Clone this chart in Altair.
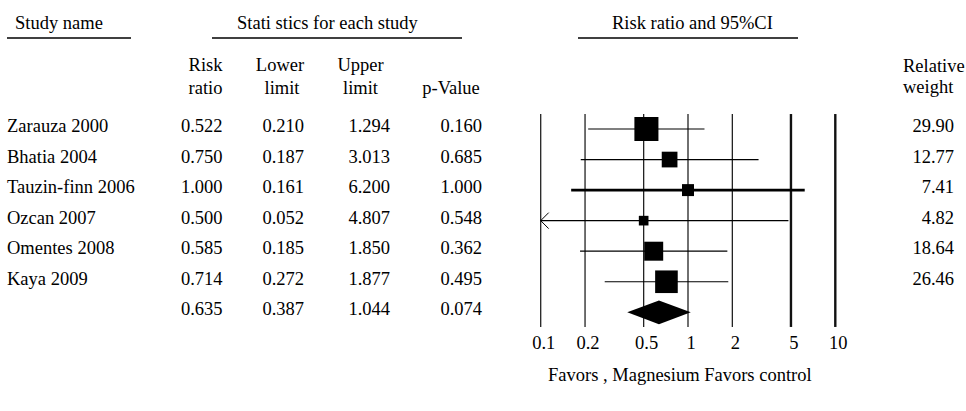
import altair as alt
import pandas as pd

# ---- data ----
studies = ["Zarauza 2000", "Bhatia 2004", "Tauzin-finn 2006", "Ozcan 2007", "Omentes 2008", "Kaya 2009"]
risk_ratio = [0.522, 0.750, 1.000, 0.500, 0.585, 0.714]
lower_limit = [0.210, 0.187, 0.161, 0.052, 0.185, 0.272]
upper_limit = [1.294, 3.013, 6.200, 4.807, 1.850, 1.877]
p_values = [0.160, 0.685, 1.000, 0.548, 0.362, 0.495]
rel_weight = [29.90, 12.77, 7.41, 4.82, 18.64, 26.46]

summary_rr = 0.635
summary_lower = 0.387
summary_upper = 1.044
summary_p = 0.074

axis_ticks = [0.1, 0.2, 0.5, 1, 2, 5, 10]
axis_labels = ["0.1", "0.2", "0.5", "1", "2", "5", "10"]
x_min, x_max = 0.1, 10

# ---- tables ----
n = len(studies)
df = pd.DataFrame({
    "study": studies,
    "row": list(range(n)),
    "rr": risk_ratio,
    "lower": lower_limit,
    "upper": upper_limit,
    "p": p_values,
    "weight": rel_weight,
})
df["lo_clip"] = df["lower"].clip(lower=x_min)

txt = pd.DataFrame({
    "name": studies + [""],
    "row": list(range(n + 1)),
    "rr_s": [f"{v:.3f}" for v in risk_ratio + [summary_rr]],
    "lo_s": [f"{v:.3f}" for v in lower_limit + [summary_lower]],
    "up_s": [f"{v:.3f}" for v in upper_limit + [summary_upper]],
    "p_s": [f"{v:.3f}" for v in p_values + [summary_p]],
    "w_s": [f"{v:.2f}" for v in rel_weight] + [""],
})

half = 0.39
diamond = pd.DataFrame({
    "x": [summary_lower, summary_rr, summary_upper],
    "y": [n, n - half, n],
    "y2": [n, n + half, n],
})

grid = pd.DataFrame({"v": axis_ticks, "lab": axis_labels})

FONT = "Liberation Serif, Times New Roman, serif"
FS = 18.5
INK = "#000000"

xs = alt.Scale(type="log", domain=[x_min, x_max], range=[540.7, 835.3], nice=False)
ys = alt.Scale(domain=[0, 6], range=[129, 312.3], nice=False, zero=False)

thin_grid = alt.Chart(grid).transform_filter("datum.v < 5").mark_rule(
    color="#222222", strokeWidth=1.3
).encode(
    x=alt.X("v:Q", scale=xs, axis=None),
    y=alt.Y(datum=-0.49, type="quantitative", scale=ys, axis=None),
    y2=alt.Y2(datum=6.48),
)

thick_grid = alt.Chart(grid).transform_filter("datum.v >= 5").mark_rule(
    color="#111111", strokeWidth=2.4
).encode(
    x=alt.X("v:Q", scale=xs, axis=None),
    y=alt.Y(datum=-0.49, type="quantitative", scale=ys, axis=None),
    y2=alt.Y2(datum=6.48),
)

tick_labels = alt.Chart(grid).mark_text(
    font=FONT, fontSize=FS, color=INK, align="center", baseline="middle", dx=3
).encode(
    x=alt.X("v:Q", scale=xs, axis=None),
    y=alt.Y(datum=7.0, type="quantitative", scale=ys, axis=None),
    text="lab:N",
)

ci_thin = alt.Chart(df).transform_filter("datum.study != 'Tauzin-finn 2006'").mark_rule(
    color=INK, strokeWidth=1.2
).encode(
    x=alt.X("lo_clip:Q", scale=xs, axis=None),
    x2="upper:Q",
    y=alt.Y("row:Q", scale=ys, axis=None),
)

ci_thick = alt.Chart(df).transform_filter("datum.study == 'Tauzin-finn 2006'").mark_rule(
    color=INK, strokeWidth=2.6
).encode(
    x=alt.X("lo_clip:Q", scale=xs, axis=None),
    x2="upper:Q",
    y=alt.Y("row:Q", scale=ys, axis=None),
)

arrow_layer = alt.Chart(df).transform_filter(f"datum.lower < {x_min}").mark_point(
    shape="M1,-1L0,0L1,1", filled=False, size=256, strokeWidth=1, color=INK, opacity=1
).encode(
    x=alt.X("lo_clip:Q", scale=xs, axis=None),
    y=alt.Y("row:Q", scale=ys, axis=None),
)

square_layer = alt.Chart(df).mark_square(color=INK, filled=True, opacity=1).encode(
    x=alt.X("rr:Q", scale=xs, axis=None),
    y=alt.Y("row:Q", scale=ys, axis=None),
    size=alt.Size("weight:Q", scale=alt.Scale(domain=[0, 30], range=[0, 580]), legend=None),
)

diamond_layer = alt.Chart(diamond).mark_area(color=INK, opacity=1).encode(
    x=alt.X("x:Q", scale=xs, axis=None),
    y=alt.Y("y:Q", scale=ys, axis=None, stack=None),
    y2="y2:Q",
)


def col(field, xpos, align):
    return alt.Chart(txt).mark_text(
        font=FONT, fontSize=FS, color=INK, align=align, baseline="middle", dy=-3
    ).encode(
        x=alt.value(xpos),
        y=alt.Y("row:Q", scale=ys, axis=None),
        text=f"{field}:N",
    )


def label(t, x, y, align="left"):
    return alt.Chart(pd.DataFrame({"t": [t]})).mark_text(
        font=FONT, fontSize=FS, color=INK, align=align, baseline="middle"
    ).encode(x=alt.value(x), y=alt.value(y), text="t:N")


def underline(x1, x2, y):
    return alt.Chart(pd.DataFrame({"a": [0]})).mark_rule(color=INK, strokeWidth=1.6).encode(
        x=alt.value(x1), x2=alt.value(x2), y=alt.value(y)
    )


layers = [
    thin_grid, thick_grid, tick_labels, ci_thin, ci_thick, arrow_layer, square_layer, diamond_layer,
    col("name", 7, "left"),
    col("rr_s", 222.5, "right"),
    col("lo_s", 304, "right"),
    col("up_s", 390, "right"),
    col("p_s", 482, "right"),
    col("w_s", 954, "right"),
    label("Study name", 15, 23),
    label("Stati stics for each study", 237, 23),
    label("Risk ratio and 95%CI", 612, 23),
    underline(7, 131, 38),
    underline(212, 462, 38),
    underline(578, 798, 38),
    label("Risk", 222.5, 65, "right"),
    label("ratio", 222.5, 88, "right"),
    label("Lower", 280, 65, "center"),
    label("limit", 282, 88, "center"),
    label("Upper", 360.5, 65, "center"),
    label("limit", 360.5, 88, "center"),
    label("p-Value", 451, 88, "center"),
    label("Relative", 903, 66, "left"),
    label("weight", 903, 87, "left"),
    label("Favors , Magnesium Favors control", 548, 375, "left"),
]

chart = alt.layer(*layers).properties(
    width=966, height=411,
    autosize=alt.AutoSizeParams(type="none"),
    padding=0,
    background="white",
).configure_view(stroke=None)

chart.save("out.html", embed_options={"renderer": "svg", "actions": False})
